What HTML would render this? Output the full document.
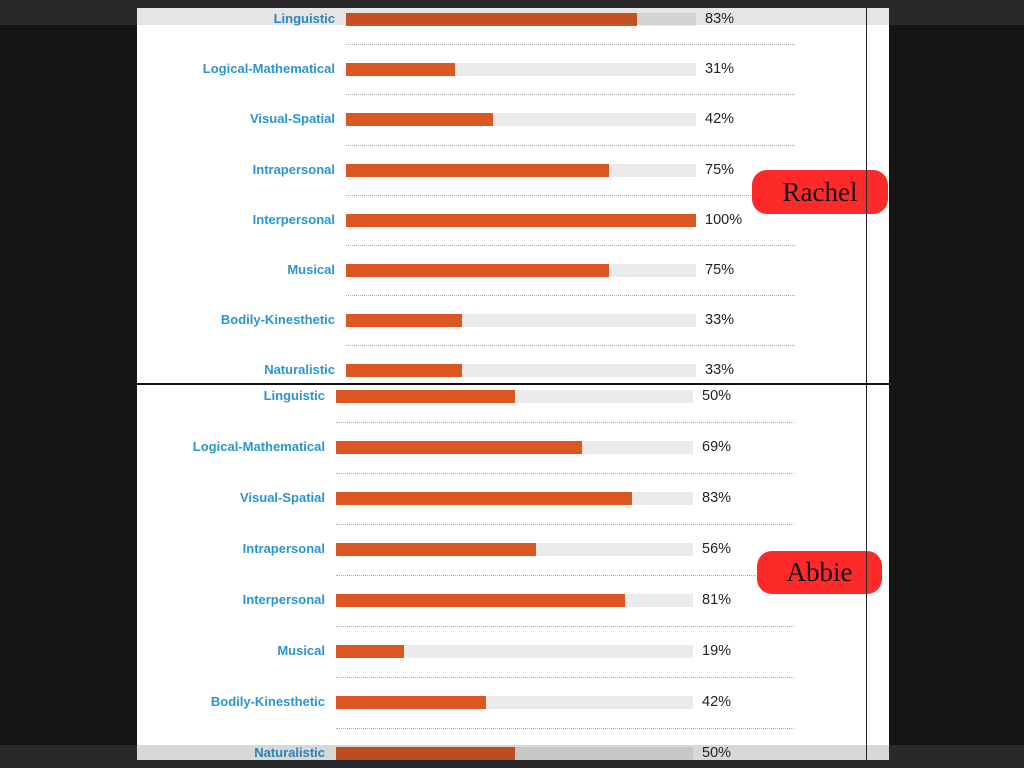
<!DOCTYPE html>
<html><head><meta charset="utf-8">
<style>
body{margin:0;width:1024px;height:768px;background:#151515;position:relative;overflow:hidden;font-family:"Liberation Sans",sans-serif}
.abs{position:absolute}
.lbl{position:absolute;font-weight:bold;font-size:13px;color:#2a95d5;text-align:right;white-space:nowrap}
.val{position:absolute;font-size:14.5px;color:#222}
.track{position:absolute;background:#ebebeb;height:13px}
.bar{position:absolute;background:#dc5622;height:13px}
.dot{position:absolute;height:0;border-top:1px dotted #aaa}
.badge{position:absolute;background:#fe2a2a;border-radius:15px;font-family:"Liberation Serif",serif;font-size:27px;color:#111;text-align:center}
</style></head><body>
<div class="abs" style="left:0;top:0;width:1024px;height:25px;background:#29292b"></div>
<div class="abs" style="left:0;top:745px;width:1024px;height:23px;background:#29292b"></div>
<div class="abs" style="left:137px;top:8px;width:752px;height:752px;background:#fff"></div>
<div id="charts"></div>
<div class="abs" style="left:137px;top:8px;width:752px;height:17px;background:rgba(40,40,40,0.12)"></div>
<div class="abs" style="left:137px;top:745px;width:752px;height:15px;background:rgba(40,40,40,0.18)"></div>
<div class="abs" style="left:137px;top:383px;width:752px;height:2px;background:#111"></div>
<div class="badge" style="left:752px;top:170px;width:136px;height:44px;line-height:44px">Rachel</div>
<div class="badge" style="left:757px;top:551px;width:125px;height:43px;line-height:43px">Abbie</div>
<div class="abs" style="left:866px;top:8px;width:1px;height:752px;background:#222"></div>
<script>
const categories=["Linguistic","Logical-Mathematical","Visual-Spatial","Intrapersonal","Interpersonal","Musical","Bodily-Kinesthetic","Naturalistic"];
const rachelValues=[83,31,42,75,100,75,33,33];
const abbieValues=[50,69,83,56,81,19,42,50];
const root=document.getElementById('charts');
function chart(name,vals,x0,w,y0,step,dotEnd){
  const xs=v=>w*v/100;
  vals.forEach((v,i)=>{
    const cy=y0+i*step;
    const l=document.createElement('div');l.className='lbl';
    
    
    l.style.right=(1024-(x0-11))+'px';l.style.top=(cy-8)+'px';l.textContent=categories[i];root.appendChild(l);
    const t=document.createElement('div');t.className='track';
    
    
    t.style.left=x0+'px';t.style.top=(cy-6)+'px';t.style.width=w+'px';root.appendChild(t);
    const b=document.createElement('div');b.className='bar';
    
    
    b.style.left=x0+'px';b.style.top=(cy-6)+'px';b.style.width=xs(v)+'px';root.appendChild(b);
    const t2=document.createElement('div');t2.className='val';
    
    
    t2.style.left=(x0+w+9)+'px';t2.style.top=(cy-8)+'px';t2.textContent=v+'%';root.appendChild(t2);
    if(i<vals.length-1){
      const d=document.createElement('div');d.className='dot';
      
      
      d.style.left=x0+'px';d.style.top=(cy+step/2)+'px';d.style.width=(dotEnd-x0)+'px';root.appendChild(d);
    }
  });
}
chart('rachel',rachelValues,346,350,19,50.2,795);
chart('abbie',abbieValues,336,357,396,51,794);
</script>
</body></html>
